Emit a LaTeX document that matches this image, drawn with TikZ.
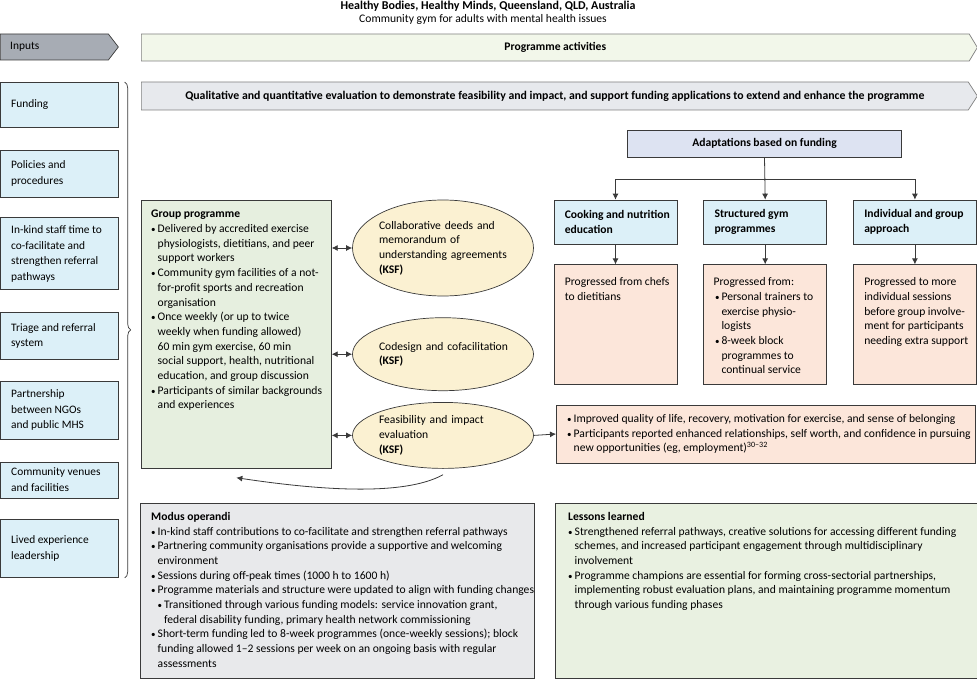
\documentclass[tikz,border=0pt]{standalone}
\usepackage{fontspec}
\setmainfont{Carlito}
\usetikzlibrary{positioning}
\usetikzlibrary{shapes.geometric,shapes.symbols}
\usetikzlibrary{arrows.meta,decorations.pathreplacing}

\definecolor{linegray}{HTML}{3A3A3A}
\definecolor{inputgray}{HTML}{A7ACB4}
\definecolor{actgreen}{HTML}{F2F7EA}
\definecolor{evalgray}{HTML}{E7E9ED}
\definecolor{inblue}{HTML}{DCF0F8}
\definecolor{grpgreen}{HTML}{E6EFDF}
\definecolor{ellyellow}{HTML}{FBF1D2}
\definecolor{adaptlav}{HTML}{DDE3F2}
\definecolor{salmon}{HTML}{FCE6DA}
\definecolor{modusgray}{HTML}{E8E9EB}
\definecolor{lessgreen}{HTML}{E9F1E1}

\newcommand{\bul}{\makebox[6.5pt][l]{\small\textbullet}}
\newcommand{\ind}{\hspace*{6.5pt}}

\begin{document}
\begin{tikzpicture}[x=1pt,y=-1pt,
		every node/.style={font=\fontsize{11.6}{14.7}\selectfont, inner sep=0pt},
		darkline/.style={draw=linegray, line width=0.7pt},
		inarrow/.style={darkline, fill=inputgray, signal, signal to=east, minimum width=118pt, minimum height=26pt, signal pointer angle=105},
		actarrow/.style={draw=black!50, line width=0.7pt, fill=actgreen, signal, signal to=east, minimum width=836pt, minimum height=27pt, signal pointer angle=118},
		evalarrow/.style={draw=black!50, line width=0.7pt, fill=evalgray, signal, signal to=east, minimum width=836pt, minimum height=28pt, signal pointer angle=114, font=\fontsize{11.8}{14.7}\selectfont\bfseries},
		inbox/.style={darkline, fill=inblue, minimum width=118pt},
		inlabel/.style={align=left, anchor=west, font=\fontsize{11.4}{15.5}\selectfont},
		inbrace/.style={draw=linegray, line width=0.7pt, decorate, decoration={brace, amplitude=6pt}},
		grpbox/.style={darkline, fill=grpgreen},
		ksfell/.style={darkline, fill=ellyellow, ellipse, minimum width=181pt, text width=128pt, align=left},
		adaptbox/.style={darkline, fill=adaptlav, font=\fontsize{11.6}{14.7}\selectfont\bfseries},
		headbox/.style={darkline, fill=inblue, minimum width=123pt, minimum height=44pt},
		headlabel/.style={align=left, anchor=west, font=\fontsize{11.6}{15.5}\selectfont\bfseries},
		outbox/.style={darkline, fill=salmon, minimum width=123pt, minimum height=120pt},
		boxtext/.style={align=left, anchor=north west},
		treearrow/.style={draw=linegray, line width=0.8pt, -{Latex[length=6pt,width=6pt]}},
		dblarrow/.style={draw=linegray, line width=0.8pt, {Latex[length=6pt,width=6pt]}-{Latex[length=6pt,width=6pt]}},
	]
	\useasboundingbox (0,0) rectangle (977,679);
	% Title
	\node (title) at (488,6.5) {\fontsize{12}{14}\selectfont\textbf{Healthy Bodies, Healthy Minds, Queensland, QLD, Australia}};
	\node (subtitle) at (483,19.5) {Community gym for adults with mental health issues};
	% Header arrows
	\node (inputs) [inarrow, anchor=west] at (0,47) {};
	\node (inputslabel) [inlabel] at ([xshift=10pt]inputs.west) {Inputs};
	\node (progact) [actarrow, anchor=west] at (141,47.5) {\textbf{Programme activities}};
	\node (evaluation) [evalarrow, anchor=west] at (141,96) {Qualitative and quantitative evaluation to demonstrate feasibility and impact, and support funding applications to extend and enhance the programme};
	% Inputs column
	\node (funding) [inbox, minimum height=45pt, anchor=north west] at (0,82) {};
	\node (policies) [inbox, minimum height=47pt, below=22pt of funding] {};
	\node (inkind) [inbox, minimum height=72pt, below=20pt of policies] {};
	\node (triage) [inbox, minimum height=47pt, below=22pt of inkind] {};
	\node (partner) [inbox, minimum height=58pt, below=21pt of triage] {};
	\node (venues) [inbox, minimum height=36pt, below=22pt of partner] {};
	\node (lived) [inbox, minimum height=58pt, below=21pt of venues] {};
	\node (fundinglabel) [inlabel] at ([xshift=11pt]funding.west) {Funding};
	\node (policieslabel) [inlabel] at ([xshift=11pt]policies.west) {Policies and\\procedures};
	\node (inkindlabel) [inlabel] at ([xshift=11pt]inkind.west) {In-kind staff time to\\co-facilitate and\\strengthen referral\\pathways};
	\node (triagelabel) [inlabel] at ([xshift=11pt]triage.west) {Triage and referral\\system};
	\node (partnerlabel) [inlabel] at ([xshift=11pt]partner.west) {Partnership\\between NGOs\\and public MHS};
	\node (venueslabel) [inlabel] at ([xshift=11pt]venues.west) {Community venues\\and facilities};
	\node (livedlabel) [inlabel] at ([xshift=11pt]lived.west) {Lived experience\\leadership};
	\draw[inbrace] ([xshift=6pt]funding.north east) -- ([xshift=6pt]lived.south east);
	% Group programme and key success factors
	\node (group) [grpbox, minimum width=190pt, minimum height=268pt, anchor=north west] at (141,200) {};
	\node (grouptext) [boxtext] at ([shift={(10pt,-10pt)}]group.north west) {\textbf{Group programme}\\
		\bul Delivered by accredited exercise\\
		\ind physiologists, dietitians, and peer\\
		\ind support workers\\
		\bul Community gym facilities of a not-\\
		\ind for-profit sports and recreation\\
		\ind organisation\\
		\bul Once weekly (or up to twice\\
		\ind weekly when funding allowed)\\
		\ind 60 min gym exercise, 60 min\\
		\ind social support, health, nutritional\\
		\ind education, and group discussion\\
		\bul Participants of similar backgrounds\\
		\ind and experiences};
	\node (deeds) [ksfell, minimum height=96pt] at (443,248) {Collaborative deeds and\\memorandum of\\understanding agreements\\\textbf{(KSF)}};
	\node (codesign) [ksfell, minimum height=73pt, below=21pt of deeds] {\mbox{Codesign and cofacilitation}\\\textbf{(KSF)}};
	\node (feasib) [ksfell, minimum height=66pt, below=11pt of codesign] {Feasibility and impact\\evaluation\\\textbf{(KSF)}};
	\draw[dblarrow] (group.east |- deeds.west) -- (deeds.west);
	\draw[dblarrow] (group.east |- codesign.west) -- (codesign.west);
	\draw[dblarrow] (group.east |- feasib.west) -- (feasib.west);
	\draw[treearrow] ([yshift=-6pt]feasib.south) .. controls ([shift={(-40pt,-28pt)}]feasib.south) and ([shift={(80pt,-21pt)}]group.south) .. ([yshift=-9pt]group.south);
	% Adaptations based on funding
	\node (adapt) [adaptbox, minimum width=274pt, minimum height=27pt] at (764.5,143.5) {Adaptations based on funding};
	\node (cookhd) [headbox] at (615.5,222) {};
	\node (gymhd) [headbox, right=26pt of cookhd] {};
	\node (indivhd) [headbox, right=26pt of gymhd] {};
	\node (cookhdlabel) [headlabel] at ([xshift=11pt]cookhd.west) {Cooking and nutrition\\education};
	\node (gymhdlabel) [headlabel] at ([xshift=11pt]gymhd.west) {Structured gym\\programmes};
	\node (indivhdlabel) [headlabel] at ([xshift=11pt]indivhd.west) {Individual and group\\approach};
	\coordinate (split) at ([yshift=-22pt]adapt.south);
	\draw[treearrow] (adapt.south) -- (gymhd.north);
	\draw[treearrow] (split) -| (cookhd.north);
	\draw[treearrow] (split) -| (indivhd.north);
	\node (cook) [outbox, below=20pt of cookhd] {};
	\node (gym) [outbox, below=20pt of gymhd] {};
	\node (indiv) [outbox, below=20pt of indivhd] {};
	\draw[treearrow] (cookhd) -- (cook);
	\draw[treearrow] (gymhd) -- (gym);
	\draw[treearrow] (indivhd) -- (indiv);
	\node (cooktext) [boxtext] at ([shift={(11pt,-13pt)}]cook.north west) {Progressed from chefs\\to dietitians};
	\node (gymtext) [boxtext] at ([shift={(10pt,-13pt)}]gym.north west) {Progressed from:\\
		\hspace*{1.5pt}\bul Personal trainers to\\
		\hspace*{1.5pt}\ind exercise physio-\\
		\hspace*{1.5pt}\ind logists\\
		\hspace*{1.5pt}\bul 8-week block\\
		\hspace*{1.5pt}\ind programmes to\\
		\hspace*{1.5pt}\ind continual service};
	\node (indivtext) [boxtext] at ([shift={(11pt,-13pt)}]indiv.north west) {Progressed to more\\individual sessions\\before group involve-\\ment for participants\\needing extra support};
	% Outcomes
	\node (outcome) [darkline, fill=salmon, minimum width=419pt, minimum height=58pt, anchor=west] at (556,434) {};
	\node (outcometext) [align=left, anchor=west] at ([xshift=11pt]outcome.west) {\bul Improved quality of life, recovery, motivation for exercise, and sense of belonging\\
		\bul Participants reported enhanced relationships, self worth, and confidence in pursuing\\
		\ind new opportunities (eg, employment)\textsuperscript{30--32}};
	\draw[treearrow] (feasib.east) -- (outcome.west);
	% Modus operandi and lessons learned
	\node (modus) [darkline, fill=modusgray, minimum width=394pt, minimum height=175pt, anchor=north west] at (140,503) {};
	\node (modustext) [boxtext] at ([shift={(11pt,-9pt)}]modus.north west) {\textbf{Modus operandi}\\
		\bul In-kind staff contributions to co-facilitate and strengthen referral pathways\\
		\bul Partnering community organisations provide a supportive and welcoming\\
		\ind environment\\
		\bul Sessions during off-peak times (1000 h to 1600 h)\\
		\bul Programme materials and structure were updated to align with funding changes\\
		\ind\bul Transitioned through various funding models: service innovation grant,\\
		\ind\ind federal disability funding, primary health network commissioning\\
		\bul Short-term funding led to 8-week programmes (once-weekly sessions); block\\
		\ind funding allowed 1--2 sessions per week on an ongoing basis with regular\\
		\ind assessments};
	\node (lessons) [darkline, fill=lessgreen, minimum width=422pt, minimum height=175pt, anchor=north west] at (555,503) {};
	\node (lessonstext) [boxtext] at ([shift={(13pt,-9pt)}]lessons.north west) {\textbf{Lessons learned}\\
		\bul Strengthened referral pathways, creative solutions for accessing different funding\\
		\ind schemes, and increased participant engagement through multidisciplinary\\
		\ind involvement\\
		\bul Programme champions are essential for forming cross-sectorial partnerships,\\
		\ind implementing robust evaluation plans, and maintaining programme momentum\\
		\ind through various funding phases};
\end{tikzpicture}
\end{document}
